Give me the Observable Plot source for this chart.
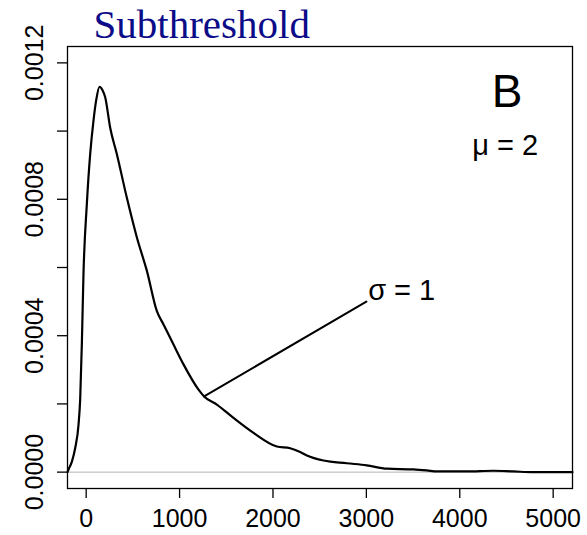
<!DOCTYPE html>
<html><head><meta charset="utf-8">
<script src="https://cdn.jsdelivr.net/npm/d3@7"></script>
<script src="https://cdn.jsdelivr.net/npm/@observablehq/plot@0.6"></script>
<style>html,body{margin:0;padding:0;background:#fff} svg{display:block}</style>
</head><body><div id="chart"></div>
<script>
// density curve (x in ms, density)
const densX = [-200,-190,-153,-118,-82,-64,-46,-29,7,43,78,110,143,175,203,257,328,435,543,650,757,828,935,1042,1203,1263,1399,1577,1792,2042,2184,2291,2363,2541,2790,3003,3220,3504,3646,3755,4076,4361,4575,4789,5207];
const densY = [0,0.000007,0.000031,0.000070,0.000139,0.000215,0.00038,0.00058,0.000786,0.000933,0.00103,0.001095,0.00113,0.00112,0.00110,0.00101,0.000933,0.000805,0.000688,0.00059,0.000472,0.000433,0.000374,0.000316,0.000242,0.000222,0.000198,0.000159,0.000115,0.000075,0.000070,0.000059,0.000049,0.000034,0.000026,0.000020,0.000010,0.000008,0.000005,0.000002,0.000002,0.000004,0.000002,0,0];
const xTicks = [0,1000,2000,3000,4000,5000];
const yTicks = [0,0.0002,0.0004,0.0006,0.0008,0.0010,0.0012];
const yLabelTicks = [0,0.0004,0.0008,0.0012];
const titleText = "Subthreshold";
const panelLabel = "B";
const muLabel = "μ = 2";
const sigmaLabel = "σ = 1";
const pointerX = [1263, 3000];
const pointerY = [0.000222, 0.0005];
const annotX = [4507, 4485, 3019];
const annotY = [0.00107, 0.000931, 0.000504];

const curve = densX.map((x,i)=>({x, y: densY[i]}));
const pointer = pointerX.map((x,i)=>({x, y: pointerY[i]}));

const chart = Plot.plot({
  width: 587, height: 535,
  marginTop: 46, marginBottom: 47, marginLeft: 67, marginRight: 15,
  style: {fontFamily: "'Liberation Sans', Arial, sans-serif", background: "#fff", color: "#000", overflow: "visible"},
  x: {domain: [-200, 5207]},
  y: {domain: [-0.000048, 0.001248]},
  marks: [
    Plot.ruleY([0], {stroke: "#b4b4b4", strokeWidth: 1}),
    Plot.line(curve, {x: "x", y: "y", stroke: "#000", strokeWidth: 2.2, curve: "monotone-x"}),
    Plot.line(pointer, {x: "x", y: "y", stroke: "#000", strokeWidth: 2}),
    Plot.frame({stroke: "#000", strokeWidth: 1.3}),
    Plot.axisX({ticks: xTicks, tickSize: 10, tickFormat: () => "", label: null, strokeWidth: 1.3}),
    Plot.axisY({ticks: yTicks, tickSize: 10, tickFormat: () => "", label: null, strokeWidth: 1.3}),
    Plot.text(xTicks, {x: d => d, text: d => String(d), frameAnchor: "bottom", dy: 38, lineAnchor: "bottom", fontSize: 25, fill: "#000"}),
    Plot.text(yLabelTicks, {y: d => d, text: d => d.toFixed(4), frameAnchor: "left", dx: -25, rotate: -90, textAnchor: "middle", lineAnchor: "bottom", fontSize: 25, fill: "#000"}),
    Plot.text([titleText], {text: d => d, frameAnchor: "top-left", dx: 26, dy: -9, textAnchor: "start", lineAnchor: "bottom", fontFamily: "'Liberation Serif', serif", fontSize: 41, fill: "#0c0c88"}),
    Plot.text([panelLabel], {x: annotX[0], y: annotY[0], text: d => d, textAnchor: "middle", lineAnchor: "bottom", fontSize: 46, fill: "#000"}),
    Plot.text([muLabel], {x: annotX[1], y: annotY[1], text: d => d, textAnchor: "middle", lineAnchor: "bottom", fontSize: 29, fill: "#000"}),
    Plot.text([sigmaLabel], {x: annotX[2], y: annotY[2], text: d => d, textAnchor: "start", lineAnchor: "bottom", fontSize: 29, fill: "#000"})
  ]
});
document.getElementById("chart").appendChild(chart);
</script>
</body></html>
